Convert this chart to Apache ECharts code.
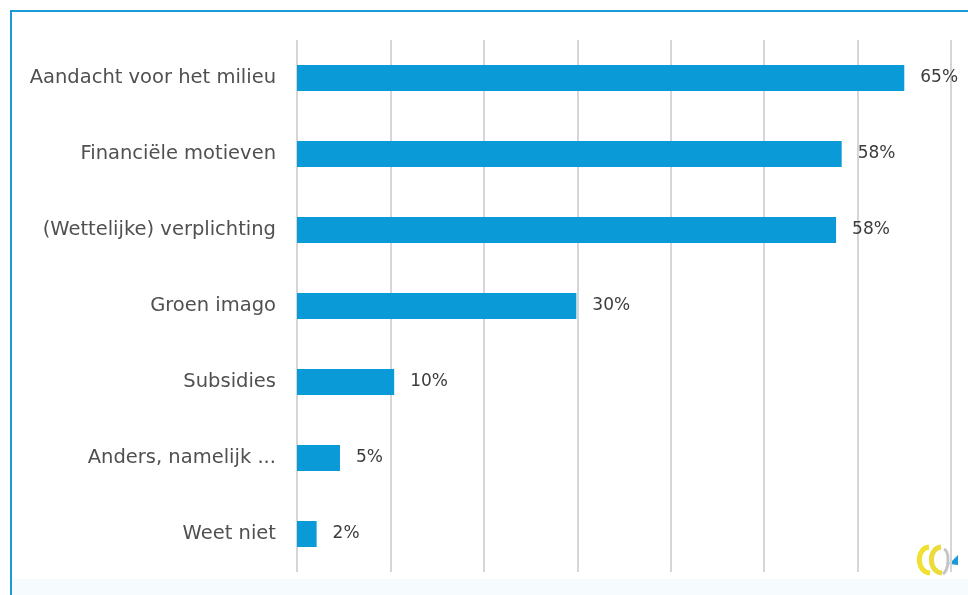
<!DOCTYPE html>
<html>
<head>
<meta charset="utf-8">
<script src="https://cdn.jsdelivr.net/npm/echarts@6/dist/echarts.min.js"></script>
<style>
html,body{margin:0;padding:0;background:#fff;}
#chart{width:968px;height:595px;}
</style>
</head>
<body>
<div id="chart"></div>
<script>
var categories = ["Aandacht voor het milieu","Financiële motieven","(Wettelijke) verplichting","Groen imago","Subsidies","Anders, namelijk ...","Weet niet"];
var values = [65, 58.3, 57.7, 29.9, 10.4, 4.6, 2.1];
var axisTicks = [0, 10, 20, 30, 40, 50, 60, 70];

var chart = echarts.init(document.getElementById('chart'), null, {renderer:'canvas'});
var option = {
  animation: false,
  backgroundColor: '#ffffff',
  grid: {left: 297, right: 17, top: 40, bottom: 23, containLabel: false},
  xAxis: {
    type: 'value', min: axisTicks[0], max: axisTicks[axisTicks.length-1], interval: 10,
    axisLabel: {show: false}, axisLine: {show: false}, axisTick: {show: false},
    splitLine: {show: true, lineStyle: {color: '#d6d6d6', width: 2}}
  },
  yAxis: {
    type: 'category', data: categories, inverse: true,
    axisLine: {show: false}, axisTick: {show: false},
    axisLabel: {color: '#505050', fontFamily: 'DejaVu Sans', fontSize: 19.5, margin: 21}
  },
  series: [{
    type: 'bar', data: values, barWidth: 26,
    itemStyle: {color: '#0a9ad8'},
    label: {show: true, position: 'right', distance: 16, color: '#3c3c3c',
      fontFamily: 'DejaVu Sans', fontSize: 17,
      formatter: function(p){ return Math.round(p.value) + '%'; }}
  }],
  graphic: [
    {type: 'line', shape: {x1: 10, y1: 11, x2: 968, y2: 11}, style: {stroke: '#1a9ad6', lineWidth: 2}, silent: true},
    {type: 'line', shape: {x1: 11, y1: 10, x2: 11, y2: 595}, style: {stroke: '#1a9ad6', lineWidth: 2}, silent: true},
    {type: 'rect', shape: {x: 12, y: 579, width: 956, height: 16}, style: {fill: '#f6fbfe'}, silent: true, z: -1},
    {type: 'group', x: 916, y: 542, silent: true, children: [
      {type: 'bezierCurve', shape: {x1: 13, y1: 5, x2: 14, y2: 31, cpx1: 0, cpy1: 6, cpx2: 0, cpy2: 30}, style: {stroke: '#f0e030', lineWidth: 5, fill: null}},
      {type: 'bezierCurve', shape: {x1: 25, y1: 5, x2: 26, y2: 31, cpx1: 12, cpy1: 6, cpx2: 12, cpy2: 30}, style: {stroke: '#ebdc3c', lineWidth: 5, fill: null}},
      {type: 'bezierCurve', shape: {x1: 28, y1: 7, x2: 27, y2: 32, cpx1: 34, cpy1: 10, cpx2: 33, cpy2: 28}, style: {stroke: '#c4c4c4', lineWidth: 3, fill: null}},
      {type: 'polygon', shape: {points: [[33, 22], [42, 13], [42, 23]]}, style: {fill: '#1a9ad6'}}
    ]}
  ]
};
chart.setOption(option);
</script>
</body>
</html>
